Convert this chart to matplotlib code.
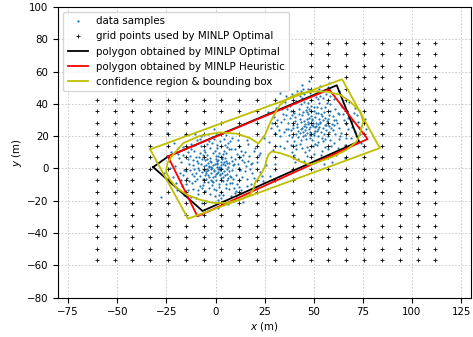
import numpy as np
import matplotlib
matplotlib.use("Agg")
import matplotlib.pyplot as plt

plt.rcParams['font.size'] = 7.4

# ---- data samples ----
samples_left = [
(-3.2,1.5),(2.1,-4.3),(5.6,3.2),(-6.8,-2.1),(0.4,7.9),(-1.5,-8.6),(8.2,-1.0),(-9.4,4.4),(3.7,9.1),(-4.9,-6.3),
(11.3,2.8),(-12.1,-3.5),(1.9,-11.8),(-2.7,12.4),(7.5,-8.9),(-8.1,9.6),(13.6,-5.2),(-14.2,6.1),(4.8,14.7),(-5.5,-14.3),
(0.9,0.6),(-0.7,-1.9),(2.6,2.2),(-2.2,3.8),(4.1,-1.6),(-4.4,-0.5),(1.2,5.1),(-1.1,-5.4),(6.3,0.9),(-6.1,1.7),
(9.7,5.8),(-10.5,-7.7),(6.9,-12.6),(-7.3,13.8),(15.4,1.3),(-16.0,-0.8),(2.3,16.9),(-0.5,-17.2),(12.8,11.0),(-11.6,-12.9),
(18.1,-9.4),(-19.3,8.7),(8.6,19.0),(-9.8,-18.5),(21.2,4.1),(-21.7,-5.6),(3.4,-20.8),(-4.0,21.5),(16.7,15.2),(-15.9,-16.4),
(-1.8,0.2),(3.3,-2.7),(-5.2,4.9),(7.1,3.6),(-3.6,-3.9),(0.2,-7.1),(5.0,6.7),(-7.9,-4.8),(2.8,-6.2),(-2.9,6.3),
(10.2,-3.9),(-9.1,0.4),(4.5,10.8),(-6.4,-10.1),(12.4,6.9),(-13.3,2.5),(0.7,12.9),(-3.1,-12.0),(9.3,-11.9),(-10.8,10.9),
(14.8,-1.7),(-15.1,-9.8),(6.1,15.9),(-8.7,-15.7),(17.2,7.6),(-17.8,3.9),(-0.9,18.4),(1.6,-16.3),(13.1,-13.6),(-12.7,15.0),
(-4.6,2.3),(1.0,3.4),(3.9,-5.1),(-2.5,-2.8),(5.8,-3.3),(-6.9,5.8),(0.1,-3.6),(7.7,7.3),(-8.6,-0.9),(2.0,9.7),
(-1.3,9.3),(8.9,1.9),(-11.0,-4.6),(5.2,-9.6),(-5.8,-8.2),(10.9,9.1),(-12.9,7.4),(3.0,-14.7),(-2.0,15.6),(11.7,-7.5),
(-7.0,-12.4),(14.3,3.7),(-14.6,-5.9),(7.9,12.2),(-10.2,14.2),(16.2,-6.3),(-18.0,-2.7),(4.2,18.3),(-5.0,-19.9),(19.4,10.5),
(-20.5,1.6),(10.6,-16.8),(-13.8,-13.4),(0.3,21.9),(22.7,-2.4),(-23.9,4.8),(6.5,-22.1),(-7.6,20.2),(15.9,17.8),(-16.8,13.1),
(-0.3,2.9),(2.4,0.1),(-3.8,-1.2),(1.5,-2.2),(4.7,1.8),(-5.6,-4.0),(0.6,4.6),(-2.4,-6.9),(6.6,-6.0),(-4.1,8.2),
(8.4,4.8),(-9.9,-2.9),(3.1,7.2),(-7.4,2.9),(5.4,-12.0),(-1.9,-10.4),(11.9,0.4),(-11.3,5.3),(9.0,-6.6),(-6.0,11.6),
(13.9,8.4),(-14.9,-1.9),(2.7,-18.1),(-3.4,16.8),(18.8,-3.0),(-17.1,-11.2),(12.0,14.0),(-9.5,17.5),(8.1,-17.4),(-12.3,-17.9),
(24.1,-7.9),(-22.4,10.3),(20.3,12.7),(-19.6,-13.7),(1.3,-24.5),(-1.0,24.3),(25.6,2.2),(-26.1,-3.1),(14.0,-20.6),(-15.5,20.9),
(-2.6,4.5),(4.4,4.0),(-4.8,-2.9),(3.6,-8.0),(-0.1,10.6),(7.3,-4.6),(-8.3,7.1),(1.8,-9.4),(-3.0,-15.8),(6.0,13.2),
(10.4,-14.0),(-13.6,-7.6),(16.4,4.7),(-16.4,8.0),(5.5,20.6),(-6.7,-21.2),(20.9,-12.2),(-21.0,15.8),(0.0,-13.3),(-10.9,-0.2),
(-0.6,-0.9),(1.7,1.1),(-2.1,-0.4),(0.8,-2.6),(3.0,0.4),(-1.4,2.1),(2.2,-1.3),(-3.5,0.8),(0.5,2.5),(-0.2,-4.5),
(4.9,-4.2),(-5.9,-1.3),(3.5,5.6),(-4.2,5.9),(6.8,-1.9),(-6.5,-6.6),(1.4,7.4),(-1.7,-7.8),(8.0,-5.5),(-8.8,3.3),
(9.5,2.9),(-10.0,6.8),(5.1,9.4),(-5.3,10.3),(11.1,-9.9),(-11.8,-9.0),(7.0,11.8),(-7.7,-11.0),(12.6,-1.2),(-13.0,-1.1),
(0.9,14.2),(-0.8,-12.6),(13.4,5.0),(-12.4,12.3),(9.8,-15.1),(-9.0,-13.6),(4.0,-16.6),(-4.5,14.9),(15.0,9.9),(-16.3,-4.4),
(17.7,-0.5),(-18.6,6.2),(7.2,17.0),(-7.9,18.0),(19.8,-6.0),(-20.2,-9.0),(11.5,17.3),(-13.2,-20.4),(22.0,8.6),(-23.3,0.1),
(2.9,3.9),(-3.9,-8.5),(5.7,-7.3),(-6.3,8.6),(8.6,-9.0),(-9.6,-6.5),(10.0,12.1),(-11.4,1.8),(12.2,-11.4),(-14.0,10.1),
(1.1,-19.3),(-1.6,19.6),(16.1,-10.9),(-17.4,-7.1),(18.3,3.0),(-19.0,12.5),(23.4,-5.0),(-24.8,7.9),(9.2,-20.4),(-10.4,21.6),
(-2.3,1.0),(1.3,-0.3),(3.8,2.9),(-4.0,3.3),(2.5,-3.7),(-3.3,-5.6),(5.3,4.6),(-5.0,-1.6),(0.4,6.0),(6.0,-0.1),
]
samples_right = [
(47.2,28.9),(52.3,24.1),(44.6,22.7),(55.8,31.4),(49.9,35.6),(41.3,27.8),(57.4,20.3),(46.1,18.5),(53.7,37.2),(38.9,33.1),
(60.2,26.6),(43.5,39.8),(50.8,15.4),(35.7,24.2),(62.9,33.9),(48.4,42.3),(58.6,14.1),(39.8,16.7),(45.0,45.9),(64.1,22.0),
(49.5,26.3),(51.1,28.4),(47.8,24.6),(53.0,27.9),(46.3,30.7),(50.2,21.9),(54.6,25.2),(44.9,26.1),(48.7,32.5),(51.9,19.8),
(56.7,29.5),(42.2,23.4),(55.2,35.0),(43.9,32.9),(58.9,24.8),(40.4,29.6),(52.8,40.7),(46.7,13.2),(61.5,30.1),(37.6,20.5),
(66.3,27.4),(33.4,28.7),(54.2,11.0),(44.0,43.4),(63.7,39.2),(36.2,36.8),(59.7,9.6),(41.0,11.8),(51.6,47.9),(68.8,19.1),
(48.1,22.8),(50.6,31.6),(45.7,27.3),(53.9,22.4),(47.5,36.9),(55.5,27.0),(42.8,30.4),(49.2,17.6),(57.9,33.3),(44.3,20.1),
(60.8,21.1),(39.3,25.0),(52.1,34.1),(46.9,40.3),(58.2,17.3),(37.9,31.5),(54.9,43.6),(43.2,15.0),(65.2,29.9),(34.8,22.8),
(62.1,12.9),(40.7,41.6),(50.0,8.8),(47.0,49.5),(69.7,25.8),(31.5,26.4),(56.3,46.2),(38.3,14.3),(66.9,35.7),(29.9,31.8),
(50.4,25.5),(48.9,29.7),(52.6,30.8),(45.4,23.9),(54.0,19.0),(47.3,33.8),(51.4,37.8),(43.6,28.5),(56.1,23.5),(49.6,13.9),
(59.4,27.6),(41.8,19.6),(53.4,45.1),(45.8,36.2),(61.0,36.5),(38.6,23.6),(57.0,12.3),(42.5,37.1),(63.0,18.0),(36.9,28.2),
(67.5,31.0),(34.1,33.9),(55.0,6.9),(48.0,46.7),(70.9,22.6),(32.6,19.8),(60.5,42.8),(40.1,8.4),(64.6,10.5),(35.4,41.0),
(72.3,28.8),(28.1,24.9),(53.1,51.2),(45.2,4.6),(71.0,37.4),(30.7,37.5),(59.1,4.2),(39.0,46.1),(74.2,16.0),(27.4,16.1),
(49.0,27.1),(51.7,23.2),(47.9,20.7),(50.9,34.4),(46.0,25.4),(54.4,32.2),(44.4,34.7),(52.4,16.3),(48.5,38.9),(57.7,26.0),
(41.6,25.9),(55.9,18.4),(43.0,21.8),(53.3,29.0),(60.0,32.4),(40.0,34.6),(58.0,39.9),(45.6,9.9),(62.6,25.1),(38.0,38.9),
(65.8,14.6),(36.6,16.9),(51.3,44.0),(42.0,5.8),(68.1,41.1),(33.0,13.9),(57.2,50.3),(44.7,49.1),(71.8,33.0),(31.2,30.2),
(63.9,45.5),(41.4,47.8),(55.3,2.5),(35.9,45.0),(73.6,21.4),(26.8,34.8),(66.0,6.3),(47.6,53.9),(75.9,30.6),(29.0,11.1),
(49.8,28.2),(48.3,25.8),(51.2,26.0),(50.5,23.0),(47.1,27.5),(52.9,25.6),(49.3,30.9),(46.6,22.1),(53.5,33.5),(45.1,29.2),
(55.0,21.3),(44.2,25.1),(56.4,26.8),(48.0,18.6),(50.1,38.1),(42.6,33.9),(57.3,30.7),(46.5,35.0),(54.7,16.9),(41.2,21.2),
(58.5,35.8),(43.7,17.4),(59.8,23.7),(39.5,27.1),(52.0,43.0),(47.7,11.7),(61.9,28.3),(38.4,35.4),(56.8,40.5),(44.8,41.1),
(63.4,20.2),(37.1,24.1),(53.8,8.4),(49.4,45.2),(65.1,33.6),(35.0,30.5),(60.1,15.5),(40.9,14.5),(58.4,45.0),(42.9,44.6),
(67.2,24.1),(32.2,23.6),(55.6,13.4),(46.4,7.5),(64.4,37.9),(33.9,37.0),(61.2,8.0),(38.8,10.2),(52.5,49.0),(69.3,29.1),
(50.3,20.5),(47.4,31.2),(52.2,27.2),(45.3,20.8),(54.8,29.8),(46.8,38.2),(51.5,14.8),(43.4,24.3),(57.5,22.6),(48.6,35.4),
(60.4,30.0),(40.6,31.6),(55.7,38.3),(44.1,12.6),(62.3,34.5),(39.0,19.2),(58.7,7.8),(36.1,33.2),(66.6,18.6),(30.4,22.0),
(70.3,34.6),(43.3,48.2),(57.8,53.0),(34.6,12.4),(73.0,25.5),(40.3,4.0),(62.7,48.1),(28.8,28.0),(76.8,24.3),(50.7,3.9),
]
samples_outliers = [(32.8,46.8),(43.9,51.8),(18.4,3.5),(-24.9,21.9),(22.5,9.8),(27.6,-4.7),(-27.9,-17.5),(24.8,18.9),(30.1,3.0)]

# ---- grid points ----
grid_x = [-60.5, -51.4, -42.4, -33.3, -24.2, -15.1, -6.1, 3.0, 12.1, 21.1,
          30.2, 39.3, 48.4, 57.4, 66.5, 75.6, 84.6, 93.7, 102.8, 111.8]
grid_y = [-57.0, -49.9, -42.8, -35.7, -28.6, -21.5, -14.4, -7.3, -0.2, 6.9,
          14.0, 21.1, 28.2, 35.3, 42.4, 49.5, 56.6, 63.7, 70.8, 77.9]

# ---- polygons ----
opt_x = [-31.7, -24.1, 61.7, 73.0, -6.6, -31.7]
opt_y = [0.8, 7.4, 51.5, 16.7, -26.4, 0.8]
heu_x = [-24.2, 57.8, 77.4, -9.2, -24.2]
heu_y = [7.4, 48.9, 18.2, -29.7, 7.4]
box_x = [-33.3, 64.4, 83.6, -14.0, -33.3]
box_y = [11.8, 55.2, 12.6, -31.2, 11.8]
conf_x = [-22.4, -16.4, -7.9, 2.2, 10.7, 17.5, 21.8, 25.2, 27.7, 30.3, 32.8, 37.0, 43.0, 49.8,
          56.6, 63.4, 68.5, 73.6, 75.2, 73.6, 71.9, 66.8, 60.0, 53.2, 48.1, 43.0, 37.9, 32.8,
          28.6, 26.9, 26.0, 25.2, 23.5, 21.8, 20.1, 19.2, 17.5, 12.4, 5.7, -1.2, -7.9, -14.7,
          -19.8, -23.2, -25.2, -24.4, -22.4]
conf_y = [7.4, 15.7, 20.2, 22.3, 21.5, 18.8, 15.4, 20.8, 28.1, 34.3, 39.4, 43.5, 46.6, 47.6,
          47.6, 45.6, 41.4, 35.3, 29.1, 21.9, 16.7, 11.6, 7.4, 4.3, 2.3, 4.3, 7.4, 9.5,
          10.5, 8.5, 5.4, 1.2, -2.8, -5.9, -9.0, -13.2, -16.3, -19.4, -21.4, -21.4, -19.4, -16.3,
          -12.1, -7.0, -2.0, 3.5, 7.4]

fig = plt.figure(figsize=(4.73, 3.37), dpi=100)
ax = fig.add_axes([58.3/473, 1-297.5/337, (471-58.3)/473, (297.5-7)/337])

pts = np.array(samples_left + samples_right + samples_outliers)
ax.plot(pts[:, 0], pts[:, 1], 'o', color='tab:blue', ms=1.6, mew=0, label='data samples')

gx, gy = np.meshgrid(grid_x, grid_y)
gx = gx.ravel(); gy = gy.ravel()
used = ~((gx < 45) & (gy > 45))
ax.plot(gx[used], gy[used], '+', color='k', ms=2.2, mew=0.6,
        label='grid points used by MINLP Optimal')

ax.plot(opt_x, opt_y, '-', color='k', lw=1.3, label='polygon obtained by MINLP Optimal')
ax.plot(heu_x, heu_y, '-', color='r', lw=1.3, label='polygon obtained by MINLP Heuristic')
ax.plot(conf_x, conf_y, '-', color='y', lw=1.3, label='confidence region & bounding box')
ax.plot(box_x, box_y, '-', color='y', lw=1.3)

ax.set_xlim(-80, 130)
ax.set_ylim(-80, 100)
ax.set_xticks(np.arange(-75, 126, 25))
ax.set_yticks(np.arange(-80, 101, 20))
ax.grid(True, color='#c4c4c4', linestyle=(0, (2, 2)), linewidth=0.6)
ax.set_axisbelow(True)
ax.set_xlabel('$x$ (m)', labelpad=2)
ax.set_ylabel('$y$ (m)', labelpad=2)
ax.legend(loc='upper left', fontsize=7.4)

fig.savefig('out.png', dpi=100)
